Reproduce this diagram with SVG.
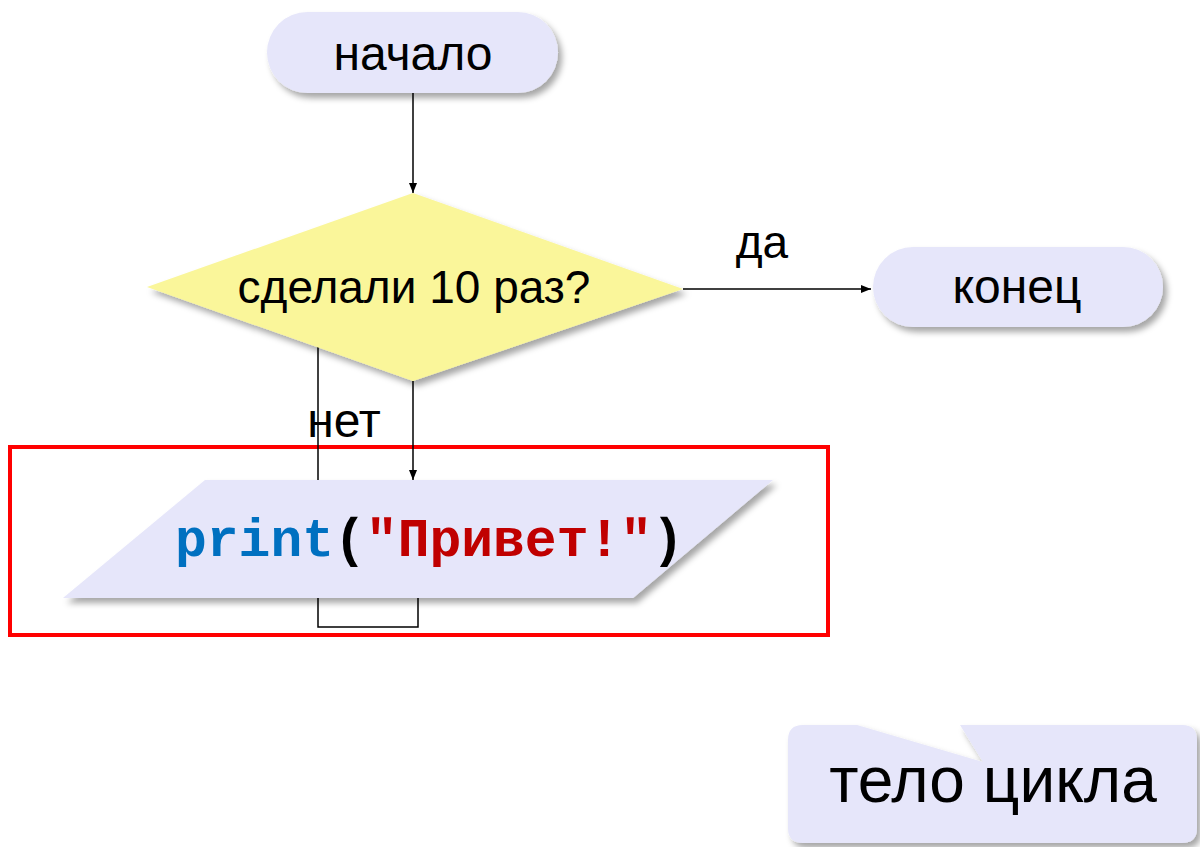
<svg xmlns="http://www.w3.org/2000/svg" width="1200" height="847" viewBox="0 0 1200 847">
<style>
.t{font-family:"Liberation Sans",Arial,sans-serif;fill:#000;text-anchor:middle}
.node{fill:#E6E6FA;filter:url(#sh)}
.ln{stroke:#000;stroke-width:1.5;fill:none}
.code{font-family:"Liberation Mono","Courier New",monospace;font-weight:bold;font-size:53px}
</style>
<defs>
<filter id="sh" x="-10%" y="-20%" width="130%" height="150%">
<feDropShadow dx="4" dy="5" stdDeviation="3" flood-color="#000" flood-opacity="0.35"/>
</filter>
<marker id="ar" viewBox="0 0 10 10" refX="10" refY="5" markerWidth="10" markerHeight="10" markerUnits="userSpaceOnUse" orient="auto">
<path d="M0,1 L10,5 L0,9 z" fill="#000"/>
</marker>
</defs>
<g id="loop-frame">
<rect x="10" y="447" width="818" height="188" fill="none" stroke="#FF0000" stroke-width="4"/>
</g>
<g id="connectors">
<line class="ln" x1="413" y1="93" x2="413" y2="193" marker-end="url(#ar)"/>
<line class="ln" x1="683" y1="289" x2="871" y2="289" marker-end="url(#ar)"/>
<line class="ln" x1="413" y1="381" x2="413" y2="480" marker-end="url(#ar)"/>
<polyline class="ln" points="318,346 318,480"/>
<polyline class="ln" points="318,598 318,627 418,627 418,598"/>
</g>
<g id="start">
<rect class="node" x="267" y="12" width="291" height="81" rx="40.5"/>
<text class="t" x="413" y="70" font-size="48">начало</text>
</g>
<g id="decision">
<polygon points="413,193 683,289 413,381 147,287" fill="#FAF69A" filter="url(#sh)"/>
<text class="t" x="414" y="303" font-size="46">сделали 10 раз?</text>
</g>
<g id="end">
<rect class="node" x="873" y="247" width="290" height="80" rx="40"/>
<text class="t" x="1017" y="303" font-size="48">конец</text>
</g>
<g id="labels">
<text class="t" x="762" y="258" font-size="46">да</text>
<text class="t" x="344" y="437" font-size="48">нет</text>
</g>
<g id="body">
<polygon class="node" points="205,480 773,480 633,598 63,598"/>
<text class="code" x="175" y="556"><tspan fill="#0070C0">print</tspan><tspan fill="#000">(</tspan><tspan fill="#C00000">"Привет!"</tspan><tspan fill="#000">)</tspan></text>
</g>
<g id="callout">
<path class="node" d="M803,725 L857,725 L983,762 L960,725 L1182,725 Q1197,725 1197,740 L1197,828 Q1197,843 1182,843 L803,843 Q788,843 788,828 L788,740 Q788,725 803,725 Z"/>
<text class="t" x="993" y="802" font-size="64">тело цикла</text>
</g>
</svg>
